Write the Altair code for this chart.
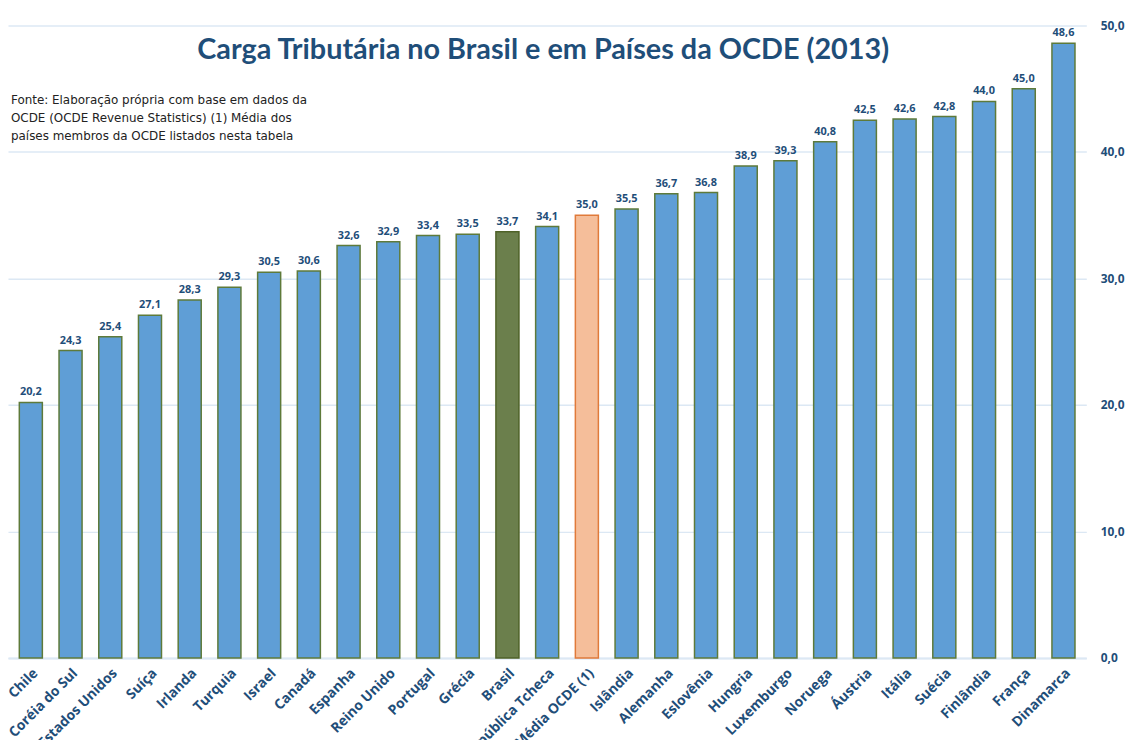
import altair as alt
import pandas as pd

countries = ["Chile", "Coréia do Sul", "Estados Unidos", "Suíça", "Irlanda", "Turquia",
             "Israel", "Canadá", "Espanha", "Reino Unido", "Portugal", "Grécia", "Brasil",
             "República Tcheca", "Média OCDE (1)", "Islândia", "Alemanha", "Eslovênia",
             "Hungria", "Luxemburgo", "Noruega", "Áustria", "Itália", "Suécia",
             "Finlândia", "França", "Dinamarca"]
values = [20.2, 24.3, 25.4, 27.1, 28.3, 29.3, 30.5, 30.6, 32.6, 32.9, 33.4, 33.5, 33.7,
          34.1, 35.0, 35.5, 36.7, 36.8, 38.9, 39.3, 40.8, 42.5, 42.6, 42.8, 44.0, 45.0, 48.6]
groups = ["OCDE"] * len(countries)
groups[countries.index("Brasil")] = "Brasil"
groups[countries.index("Média OCDE (1)")] = "Média"

df = pd.DataFrame({"pais": countries, "valor": values, "grupo": groups})

DARK = "#1F4E79"

x = alt.X("pais:N", sort=countries, title=None,
          scale=alt.Scale(paddingInner=0.42, paddingOuter=0.285),
          axis=alt.Axis(labelAngle=-45, labelAlign="right", labelBaseline="top",
                        labelFontSize=14, labelFontWeight="bold", labelColor=DARK,
                        labelFont="Open Sans", labelPadding=8, ticks=False,
                        domainColor="#DCE8F4", domainWidth=2, labelOverlap=False))
y = alt.Y("valor:Q", title=None,
          scale=alt.Scale(domain=[0, 50], nice=False),
          axis=alt.Axis(orient="right", values=[0, 10, 20, 30, 40, 50],
                        labelExpr="replace(format(datum.value, '.1f'), '.', ',')",
                        labelFontSize=12, labelFontWeight="bold", labelColor=DARK,
                        labelFont="Open Sans", labelPadding=14, ticks=False, domain=False,
                        gridColor="#DCE8F4", gridWidth=1.5))

bars = alt.Chart(df).mark_bar(strokeWidth=1.5).encode(
    x=x, y=y,
    fill=alt.Fill("grupo:N", legend=None,
                  scale=alt.Scale(domain=["OCDE", "Brasil", "Média"],
                                  range=["#5F9ED6", "#6B7F4C", "#F5BE9A"])),
    stroke=alt.Stroke("grupo:N", legend=None,
                      scale=alt.Scale(domain=["OCDE", "Brasil", "Média"],
                                      range=["#5E7A3A", "#4F6228", "#E07A3A"])),
)

labels = alt.Chart(df).transform_calculate(
    lab="replace(format(datum.valor, '.1f'), '.', ',')"
).mark_text(dy=-10, fontSize=11, fontWeight="bold", color=DARK, font="Open Sans").encode(
    x=alt.X("pais:N", sort=countries), y="valor:Q", text="lab:N")

note = alt.Chart(pd.DataFrame({"t": ["Fonte:  Elaboração própria com base em dados da\nOCDE (OCDE Revenue Statistics) (1)  Média dos\npaíses membros da OCDE listados nesta tabela"]})).mark_text(
    align="left", baseline="top", fontSize=12, lineBreak="\n", lineHeight=18,
    color="#222222", font="DejaVu Sans"
).encode(x=alt.value(3), y=alt.value(70), text="t:N")

chart = alt.layer(bars, labels, note).properties(
    width=1086, height=637,
    autosize=alt.AutoSizeParams(type="none"),
    padding={"left": 0, "top": 15, "right": 43, "bottom": 80},
    title=alt.TitleParams("Carga Tributária no Brasil e em Países da OCDE (2013)",
                          font="Lato", fontSize=29, fontWeight="bold", color=DARK,
                          anchor="middle", dy=50, dx=-4),
).configure_view(stroke=None)

chart.save("out.html", embed_options={"renderer": "svg", "actions": False})
